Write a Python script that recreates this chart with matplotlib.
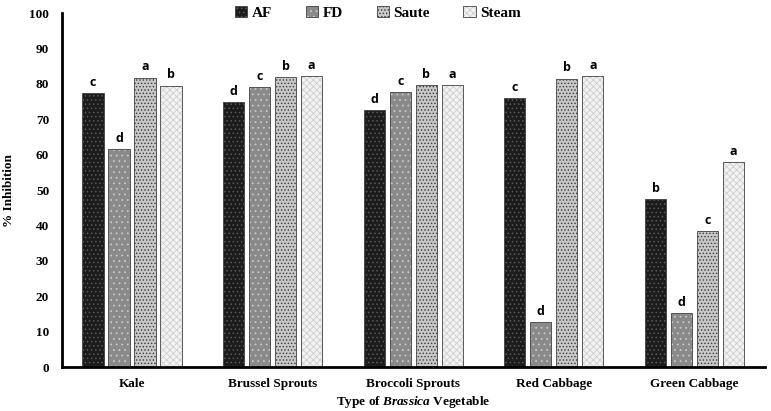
import matplotlib
matplotlib.use("Agg")
import matplotlib.pyplot as plt
import numpy as np

# Data
vegetables = ["Kale", "Brussel Sprouts", "Broccoli Sprouts", "Red Cabbage", "Green Cabbage"]
methods = ["AF", "FD", "Saute", "Steam"]
af = [77.3, 74.8, 72.7, 76.0, 47.5]
fd = [61.5, 79.2, 77.6, 12.7, 15.3]
saute = [81.8, 82.0, 79.7, 81.5, 38.5]
steam = [79.5, 82.2, 79.7, 82.2, 58.0]
letters_af = ["c", "d", "d", "c", "b"]
letters_fd = ["d", "c", "c", "d", "d"]
letters_saute = ["a", "b", "b", "b", "c"]
letters_steam = ["b", "a", "a", "a", "a"]

series = [af, fd, saute, steam]
letters = [letters_af, letters_fd, letters_saute, letters_steam]
styles = [
    dict(facecolor="#1c1c1c", hatch="....", hatch_color="#5a5a5a"),
    dict(facecolor="#8a8a8a", hatch="...", hatch_color="#c8c8c8"),
    dict(facecolor="#c8c8c8", hatch=".....", hatch_color="#3a3a3a"),
    dict(facecolor="#f2f2f2", hatch="xxxxx", hatch_color="#cfcfcf"),
]

serif = "Liberation Serif"
plt.rcParams["hatch.linewidth"] = 0.6
plt.rcParams["mathtext.fontset"] = "custom"
plt.rcParams["mathtext.it"] = "Liberation Serif:italic:bold"
plt.rcParams["mathtext.rm"] = "Liberation Serif:bold"

fig = plt.figure(figsize=(7.71, 4.11), dpi=100)
ax = fig.add_axes([0.080, 0.107, 0.912, 0.861])

x = np.arange(len(vegetables))
pitch = 0.185
width = 0.15
for i, (vals, st, lab) in enumerate(zip(series, styles, letters)):
    pos = x + (i - 1.5) * pitch
    plt.rcParams["hatch.color"] = st["hatch_color"]
    bars = ax.bar(pos, vals, width, facecolor=st["facecolor"], hatch=st["hatch"],
                  edgecolor="#404040", linewidth=0.6, label=methods[i])
    for b in bars:
        b._hatch_color = matplotlib.colors.to_rgba(st["hatch_color"])
    for p, v, l in zip(pos, vals, lab):
        ax.text(p, v + 1.2, l, ha="center", va="bottom", fontsize=9,
                fontweight="bold", family="Open Sans")

ax.set_xlim(-0.5, len(vegetables) - 0.5)
ax.set_ylim(0, 100)
ax.set_yticks(np.arange(0, 101, 10))
ax.set_xticks(x)
ax.set_xticklabels(vegetables)
ax.tick_params(length=0, pad=8)
for t in ax.get_xticklabels() + ax.get_yticklabels():
    t.set_family(serif)
    t.set_fontweight("bold")
    t.set_fontsize(9.5)
ax.tick_params(axis="y", pad=9)

for s in ["top", "right"]:
    ax.spines[s].set_visible(False)
for s in ["left", "bottom"]:
    ax.spines[s].set_linewidth(2)

ax.set_ylabel("% Inhibition", family=serif, fontweight="bold", fontsize=9.5, labelpad=10)
ax.set_xlabel("Type of $\\mathit{Brassica}$ Vegetable", family=serif,
              fontweight="bold", fontsize=9.5, labelpad=3)

leg = ax.legend(loc="upper center", bbox_to_anchor=(0.45, 1.06), ncol=4, frameon=False,
                handlelength=0.8, handleheight=0.8, handletextpad=0.3, columnspacing=2.2,
                prop=dict(family=serif, weight="bold", size=11))

fig.savefig("out.png", dpi=100)
